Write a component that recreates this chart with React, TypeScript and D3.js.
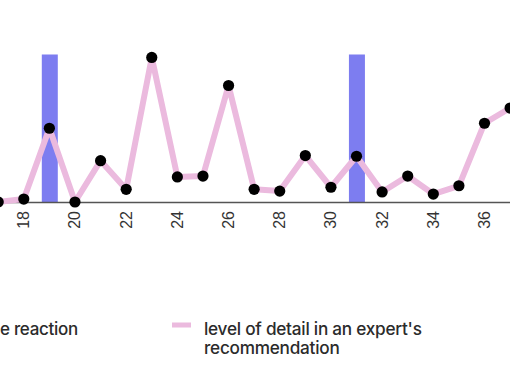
import React from "react";
import * as d3 from "d3";

const xValues = [17, 18, 19, 20, 21, 22, 23, 24, 25, 26, 27, 28, 29, 30, 31, 32, 33, 34, 35, 36, 37];
const detailLevel = [0.0, 0.02, 0.5, 0.0, 0.28, 0.086, 0.98, 0.17, 0.176, 0.79, 0.086, 0.074, 0.315, 0.1, 0.31, 0.068, 0.176, 0.054, 0.11, 0.534, 0.637];
const reactionDays = [19, 31];
const reactionValues = [1, 1];
const tickValues = [18, 20, 22, 24, 26, 28, 30, 32, 34, 36];
const legendLeft = "e reaction";
const legendRight = ["level of detail in an expert's", "recommendation"];

const W = 510;
const H = 382;

export default function App() {
  const x = d3.scaleLinear().domain([18, 36]).range([23.8, 484.5]);
  const y = d3.scaleLinear().domain([0, 1]).range([202, 54.5]);
  const line = d3
    .line<number>()
    .x((_, i) => x(xValues[i]))
    .y((d) => y(d));
  const barW = 16;
  const font = "Inter, 'Liberation Sans', sans-serif";

  return (
    <svg
      width={W}
      height={H}
      style={{ position: "absolute", left: 0, top: 0, background: "#fff" }}
    >
      {reactionDays.map((d, i) => (
        <rect
          key={d}
          x={x(d) - barW / 2 + 0.4}
          y={y(reactionValues[i])}
          width={barW}
          height={y(0) - y(reactionValues[i])}
          fill="#7d7df0"
        />
      ))}
      <line x1={0} x2={W} y1={y(0) + 0.5} y2={y(0) + 0.5} stroke="#555" strokeWidth={1.5} />
      <path d={line(detailLevel) || ""} fill="none" stroke="#ebbade" strokeWidth={6} strokeLinejoin="round" />
      {detailLevel.map((v, i) => (
        <circle key={i} cx={x(xValues[i])} cy={y(v)} r={5.6} fill="#000" />
      ))}
      {tickValues.map((t) => (
        <text
          key={t}
          transform={`translate(${x(t) + 5.5},211) rotate(-90)`}
          textAnchor="end"
          fontFamily="'Liberation Sans', Arial, sans-serif"
          fontSize={16}
          fill="#333"
        >
          {t}
        </text>
      ))}
      <text x={0} y={335} fontFamily={font} fontSize={17} fill="#2b2b2b" fontWeight={500} letterSpacing={-0.3}>
        {legendLeft}
      </text>
      <rect x={172} y={322.5} width={19} height={5} fill="#ebbade" />
      {legendRight.map((s, i) => (
        <text
          key={i}
          x={204}
          y={335 + i * 19}
          fontFamily={font}
          fontSize={17.2}
          fill="#2b2b2b"
          fontWeight={500}
          letterSpacing={-0.25}
        >
          {s}
        </text>
      ))}
    </svg>
  );
}
